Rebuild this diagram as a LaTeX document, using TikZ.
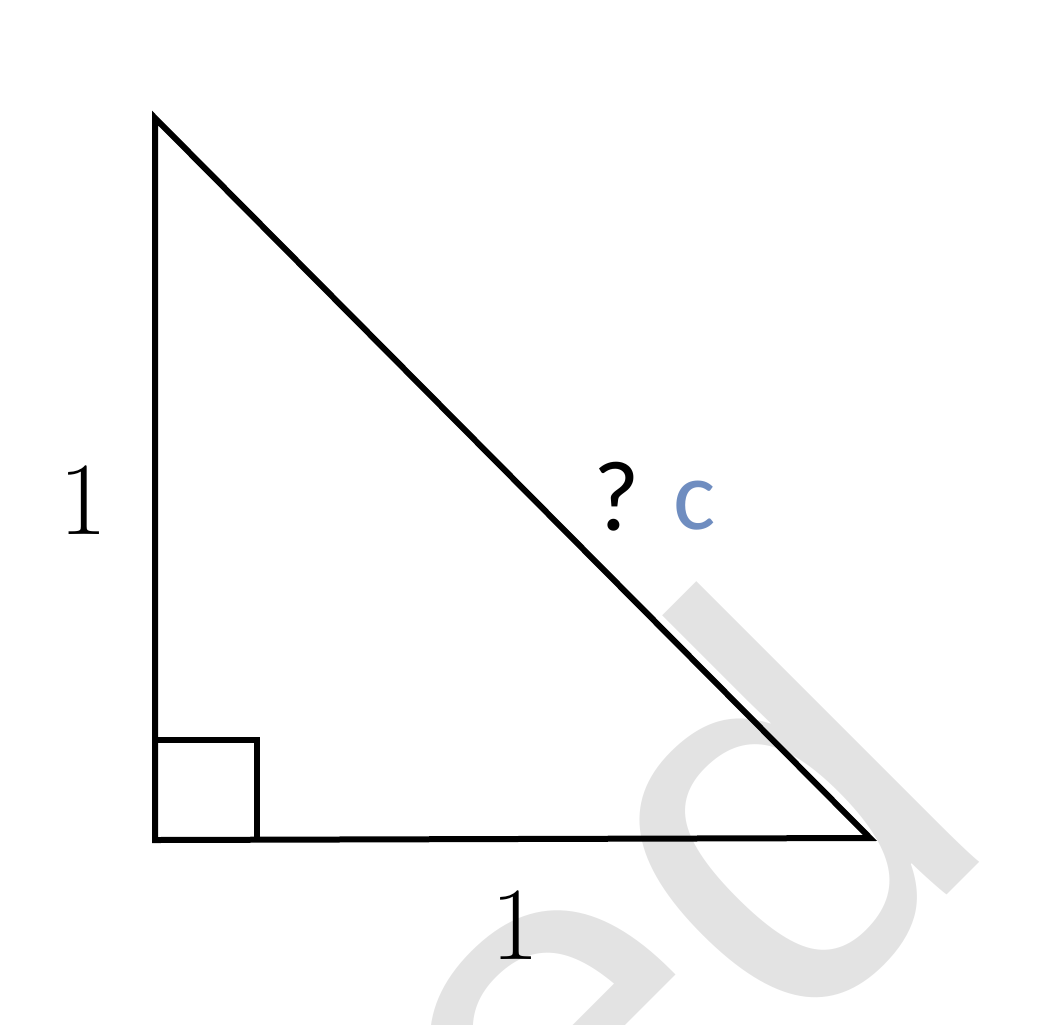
\documentclass[tikz,border=0pt]{standalone}
\usepackage{fontspec}
\newfontfamily\wmfont{Liberation Sans}
\newfontfamily\calfont{Carlito}
\definecolor{wmgray}{HTML}{E3E3E3}
\definecolor{cblue}{HTML}{6F8DC0}
\begin{document}
\begin{tikzpicture}[x=0.5pt,y=-0.5pt,
  edge/.style={line width=3pt,black},
  lab/.style={inner sep=0pt,font=\fontsize{52}{60}\selectfont},
  sanslab/.style={inner sep=0pt,font=\calfont\fontsize{50}{60}\selectfont}]
\useasboundingbox (0,0) rectangle (1044,1024);
\begin{scope}
\clip (0,0) rectangle (1044,1024);
\node[anchor=base west,rotate=45,inner sep=0pt,text=wmgray,
      font=\wmfont\fontsize{275}{300}\selectfont] (wm) at (572,1270) {ed};
\end{scope}
\coordinate (A) at (155,118);
\coordinate (B) at (155,840);
\coordinate (C) at (870,838);
\coordinate (S1) at (155,740);
\coordinate (S2) at (257,740);
\coordinate (S3) at (257,840);
\draw[edge,line width=2.6pt] (S1) -- (S2) -- (S3);
\draw[edge] (A) -- (B) -- (C) -- cycle;
\node[lab] (l1) at (83,500) {1};
\node[lab] (l2) at (515,925) {1};
\node[sanslab] (q) at (617,497) {?};
\node[sanslab,text=cblue] (c) at (695,506) {c};
\end{tikzpicture}
\end{document}
